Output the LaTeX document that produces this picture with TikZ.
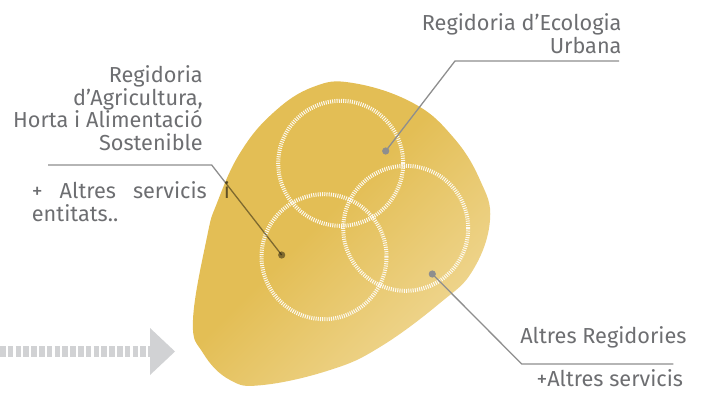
\documentclass[tikz,border=0pt]{standalone}
\usepackage{fontspec}
\setmainfont{Fira Sans}
\usetikzlibrary{positioning}
\definecolor{blobgold}{HTML}{E3BE55}
\definecolor{blobpale}{HTML}{F2DC9F}
\definecolor{labelgray}{HTML}{6D6E71}
\definecolor{leadgray}{HTML}{8E8E8E}
\definecolor{arrowgray}{HTML}{D1D2D4}
\pgfdeclarehorizontalshading{blobshade}{100bp}{color(0bp)=(blobgold); color(46bp)=(blobgold); color(80bp)=(blobpale); color(100bp)=(blobpale)}
\tikzset{
  label text/.style={text=labelgray, inner sep=0pt, font=\fontsize{21.7}{22.8}\selectfont},
  ring/.style={white, opacity=0.9, line width=4pt, dash pattern=on 1pt off 1.2pt},
  leader/.style={leadgray, line width=1.3pt},
  leaddot/.style={leadgray},
}
\begin{document}
\begin{tikzpicture}[x=1pt, y=-1pt]
      \useasboundingbox (0,0) rectangle (707,392);
      \shade[shading=blobshade, shading angle=-45]
        plot[smooth cycle, tension=0.7] coordinates {
          (353,83) (413,103) (453,137) (480,180) (490,220) (473,270)
          (440,303) (380,347) (330,370) (263,385) (230,380) (203,353)
          (193,320) (207,237) (217,203) (240,153) (273,113) (313,87)};
      \coordinate (ringtop) at (340.7,163.3);
      \coordinate (ringleft) at (324,256.7);
      \coordinate (ringright) at (405.7,228.3);
      \draw[ring] (ringtop) circle[radius=62.5];
      \draw[ring] (ringleft) circle[radius=62.5];
      \draw[ring] (ringright) circle[radius=62.5];
      \coordinate (doteco) at (385.7,151);
      \coordinate (dotagri) at (281.7,255);
      \coordinate (dotother) at (432.3,274);
      \coordinate (bendeco) at (455,61);
      \coordinate (endeco) at (619,61);
      \coordinate (bendagri) at (211.7,165);
      \coordinate (endagri) at (48,165);
      \coordinate (bendother) at (521.7,364);
      \coordinate (endother) at (673.3,364);
      \draw[leader] (doteco) -- (bendeco) -- (endeco);
      \fill[leaddot] (doteco) circle[radius=3.6];
      \draw[leader] (dotother) -- (bendother) -- (endother);
      \fill[leaddot] (dotother) circle[radius=3.6];
      \node[label text, anchor=base east, align=right] (ecology) at (621.7,53)
        {Regidoria d’Ecologia\\Urbana};
      \node[label text, anchor=base east] (regidories) at (686.7,343) {Altres Regidories};
      \node[label text, anchor=base east] (services) at (683.3,386.7) {+Altres servicis};
      \begin{scope}[blend mode=multiply]
        \draw[leader] (dotagri) -- (bendagri) -- (endagri);
        \fill[leaddot] (dotagri) circle[radius=3.6];
        \node[label text, anchor=base east, align=right] (agriculture) at (203,150.7)
          {Regidoria\\d’Agricultura,\\Horta i Alimentació\\Sostenible};
        \node[label text, anchor=base west, align=left] (entities) at (31.7,221.7)
          {\makebox[198pt][s]{+ Altres servicis i}\\entitats..};
      \end{scope}
      \coordinate (arrowtail) at (0,351.5);
      \coordinate (arrowbase) at (150,351.5);
      \draw[arrowgray, line width=11.5pt, dash pattern=on 5.5pt off 2.3pt] (arrowtail) -- (arrowbase);
      \fill[arrowgray] (150,328) -- (175,351.5) -- (150,375) -- cycle;
    \end{tikzpicture}
\end{document}
